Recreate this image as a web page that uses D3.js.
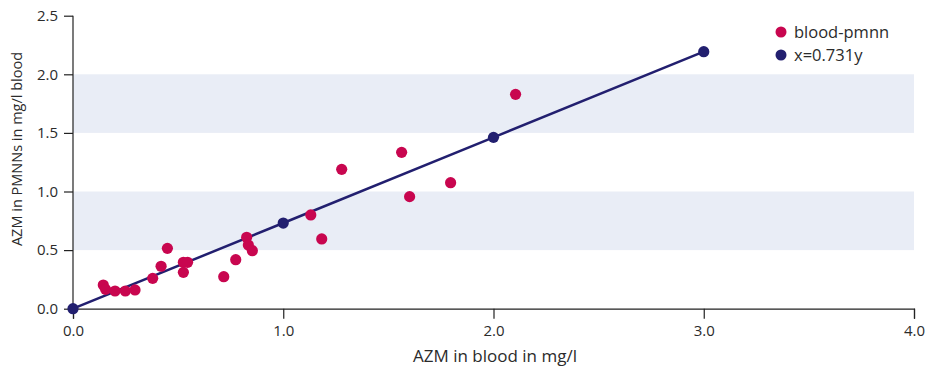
<!DOCTYPE html>
<html><head><meta charset="utf-8">
<script src="https://cdn.jsdelivr.net/npm/d3@7"></script>
<style>body{margin:0;background:#fff}svg{display:block}text{font-family:"Open Sans",sans-serif;fill:#2b2b2b}</style>
</head><body><svg id="c" width="934" height="369"></svg>
<script>
const bloodX = [0.144,0.155,0.20,0.249,0.295,0.379,0.419,0.449,0.525,0.545,0.525,0.717,0.774,0.826,0.834,0.853,1.131,1.183,1.278,1.563,1.601,1.796,2.105];
const pmnnY  = [0.202,0.165,0.151,0.151,0.16,0.259,0.362,0.515,0.396,0.396,0.31,0.273,0.418,0.609,0.543,0.495,0.80,0.595,1.189,1.334,0.956,1.075,1.829];
const fitX = [0,1,2,3];
const fitY = [0,0.731,1.462,2.193];
const xTicks = [0,1,2,3,4];
const yTicks = [0,0.5,1,1.5,2,2.5];
const bands = [[0.5,1.0],[1.5,2.0]];
const seriesNames = ["blood-pmnn","x=0.731y"];
const colors = ["#c8064f","#221f6f"];

const svg = d3.select("#c");
const x = d3.scaleLinear().domain([0,4]).range([73,914]);
const y = d3.scaleLinear().domain([0,2.5]).range([308.7,15.7]);

svg.append("g").selectAll("rect").data(bands).join("rect")
  .attr("x", x(0)).attr("width", x(4)-x(0))
  .attr("y", d=>y(d[1])).attr("height", d=>y(d[0])-y(d[1]))
  .attr("fill","#e9edf6");

const xa = svg.append("g").attr("transform",`translate(0,${y(0)})`)
  .call(d3.axisBottom(x).tickValues(xTicks).tickFormat(d3.format(".1f")).tickSize(10).tickPadding(7));
const ya = svg.append("g").attr("transform",`translate(${x(0)},0)`)
  .call(d3.axisLeft(y).tickValues(yTicks).tickFormat(d3.format(".1f")).tickSize(9).tickPadding(6));
[xa,ya].forEach(a=>{
  a.select(".domain").attr("stroke","#222").attr("stroke-width",1.2);
  a.selectAll(".tick line").attr("stroke","#222").attr("stroke-width",1.2);
  a.selectAll("text").style("font-size","15px").style("font-family","'Open Sans',sans-serif").attr("fill","#2b2b2b");
});
ya.select(".domain").attr("d",`M0,${y(2.5)}V${y(0)}`);

svg.append("path").datum(fitX.map((d,i)=>[d,fitY[i]]))
  .attr("d", d3.line().x(d=>x(d[0])).y(d=>y(d[1])))
  .attr("fill","none").attr("stroke",colors[1]).attr("stroke-width",2.5);

svg.append("g").selectAll("circle").data(bloodX.map((d,i)=>[d,pmnnY[i]])).join("circle")
  .attr("cx",d=>x(d[0])).attr("cy",d=>y(d[1])).attr("r",5.6).attr("fill",colors[0]);
svg.append("g").selectAll("circle").data(fitX.map((d,i)=>[d,fitY[i]])).join("circle")
  .attr("cx",d=>x(d[0])).attr("cy",d=>y(d[1])).attr("r",5.6).attr("fill",colors[1]);

const lg = svg.append("g");
seriesNames.forEach((n,i)=>{
  lg.append("circle").attr("cx",781).attr("cy",32+i*23).attr("r",5.5).attr("fill",colors[i]);
  lg.append("text").attr("x",794).attr("y",32+i*23).attr("dy","0.35em").style("font-size","16.5px").text(n);
});

svg.append("text").attr("x",495).attr("y",362).attr("text-anchor","middle").style("font-size","17px").text("AZM in blood in mg/l");
svg.append("text").attr("transform",`translate(22,149) rotate(-90)`).attr("text-anchor","middle").style("font-size","14.5px").text("AZM in PMNNs in mg/l blood");
</script></body></html>
